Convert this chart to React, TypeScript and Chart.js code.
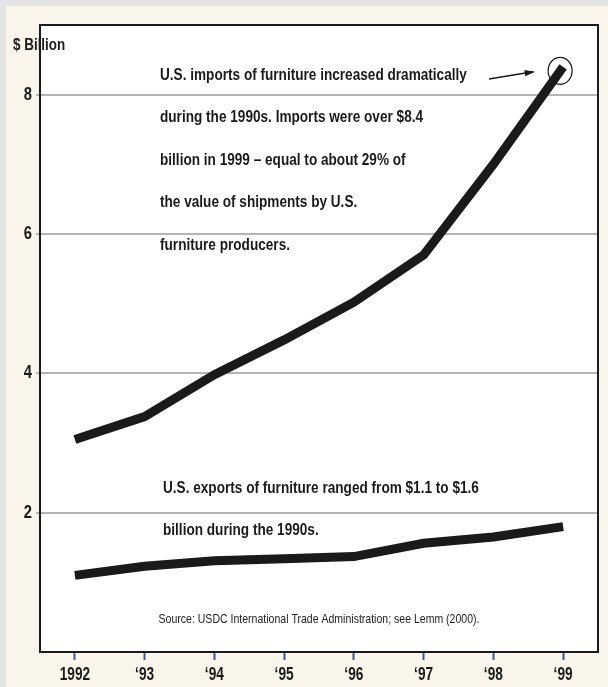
import React, { useEffect, useRef } from "react";
import { Chart, registerables } from "chart.js";

Chart.register(...registerables);

const years = ["1992", "\u201893", "\u201894", "\u201895", "\u201896", "\u201897", "\u201898", "\u201899"];
const imports = [3.05, 3.38, 3.98, 4.48, 5.02, 5.7, 7.0, 8.4];
const exportsData = [1.1, 1.23, 1.31, 1.34, 1.37, 1.56, 1.65, 1.8];
const yTicks = [2, 4, 6, 8];
const importNote = [
  "U.S. imports of furniture increased dramatically",
  "during the 1990s. Imports were over $8.4",
  "billion in 1999 \u2013 equal to about 29% of",
  "the value of shipments by U.S.",
  "furniture producers.",
];
const exportNote = [
  "U.S. exports of furniture ranged from $1.1 to $1.6",
  "billion during the 1990s.",
];
const sourceNote = "Source: USDC International Trade Administration; see Lemm (2000).";
const yTitle = "$ Billion";

const FONT = "'Liberation Sans', Arial, sans-serif";
const CREAM = "#f9f5ea";

function narrowText(ctx: any, text: string, x: number, y: number, sx: number, align: string) {
  ctx.save();
  ctx.translate(x, y);
  ctx.scale(sx, 1);
  ctx.textAlign = align;
  ctx.fillText(text, 0, 0);
  ctx.restore();
}

const decor = {
  id: "decor",
  beforeDraw(chart: any) {
    const { ctx, chartArea: a, width, height } = chart;
    ctx.save();
    ctx.fillStyle = "#e4e4e4";
    ctx.fillRect(0, 0, width, height);
    ctx.fillStyle = CREAM;
    ctx.fillRect(6, 6, width - 6, height - 6);
    ctx.fillStyle = "#ffffff";
    ctx.fillRect(a.left, a.top, a.right - a.left, a.bottom - a.top);
    ctx.restore();
  },
  afterDraw(chart: any) {
    const { ctx, chartArea: a, scales } = chart;
    ctx.save();
    ctx.strokeStyle = "#1a1a1a";
    ctx.lineWidth = 2;
    ctx.strokeRect(a.left, a.top, a.right - a.left, a.bottom - a.top);

    ctx.fillStyle = "#1a1a1a";
    ctx.textBaseline = "middle";

    // axis tick labels, taken from the library's scales
    ctx.font = `bold 18px ${FONT}`;
    scales.x.ticks.forEach((t: any, i: number) => {
      narrowText(ctx, scales.x.getLabelForValue(t.value), scales.x.getPixelForTick(i), 675, 0.76, "center");
    });
    scales.y.ticks.forEach((t: any, i: number) => {
      narrowText(ctx, String(t.value), a.left - 8, scales.y.getPixelForTick(i), 0.82, "right");
    });

    ctx.font = `bold 17px ${FONT}`;
    narrowText(ctx, yTitle, 13, 45, 0.79, "left");

    importNote.forEach((t, i) => narrowText(ctx, t, 160, 75 + i * 42.5, 0.8, "left"));
    exportNote.forEach((t, i) => narrowText(ctx, t, 163, 488 + i * 42, 0.8, "left"));

    ctx.font = `13px ${FONT}`;
    ctx.fillStyle = "#222";
    narrowText(ctx, sourceNote, 319, 619, 0.81, "center");

    // circle around 1999 import point
    const px = scales.x.getPixelForValue(7);
    const py = scales.y.getPixelForValue(imports[7]);
    ctx.strokeStyle = "#1a1a1a";
    ctx.lineWidth = 1.2;
    ctx.beginPath();
    ctx.ellipse(px - 3, py + 4, 12, 13.5, 0, 0, Math.PI * 2);
    ctx.stroke();

    // arrow
    const x0 = 489, y0 = 79, x1 = px - 30, y1 = py + 5;
    ctx.lineWidth = 1.4;
    ctx.beginPath();
    ctx.moveTo(x0, y0);
    ctx.lineTo(x1, y1);
    ctx.stroke();
    const ang = Math.atan2(y1 - y0, x1 - x0);
    ctx.fillStyle = "#1a1a1a";
    ctx.beginPath();
    ctx.moveTo(x1 + 2, y1);
    ctx.lineTo(x1 - 9 * Math.cos(ang - 0.35), y1 - 9 * Math.sin(ang - 0.35));
    ctx.lineTo(x1 - 9 * Math.cos(ang + 0.35), y1 - 9 * Math.sin(ang + 0.35));
    ctx.closePath();
    ctx.fill();
    ctx.restore();
  },
};

export default function App() {
  const ref = useRef<HTMLCanvasElement>(null);
  useEffect(() => {
    if (!ref.current) return;
    const chart = new Chart(ref.current, {
      type: "line",
      data: {
        labels: years,
        datasets: [
          {
            label: "Imports",
            data: imports,
            borderColor: "#1a1a1a",
            borderWidth: 9,
            pointRadius: 0,
            tension: 0,
            borderCapStyle: "butt",
            borderJoinStyle: "miter",
          },
          {
            label: "Exports",
            data: exportsData,
            borderColor: "#1a1a1a",
            borderWidth: 9,
            pointRadius: 0,
            tension: 0,
            borderCapStyle: "butt",
            borderJoinStyle: "miter",
          },
        ],
      },
      options: {
        animation: false,
        responsive: false,
        devicePixelRatio: 1,
        layout: { padding: { top: 25, right: 10, left: 0, bottom: 0 } },
        plugins: { legend: { display: false }, tooltip: { enabled: false } },
        scales: {
          x: {
            type: "category",
            offset: true,
            border: { display: false },
            grid: {
              drawOnChartArea: false,
              drawTicks: true,
              tickLength: 8,
              tickWidth: 2,
              tickColor: "#3a55a8",
              offset: false,
            },
            ticks: {
              display: false,
              maxRotation: 0,
              autoSkip: false,
            },
            afterFit(s: any) {
              s.height = 35;
            },
          },
          y: {
            min: 0,
            max: 9,
            border: { display: false },
            afterBuildTicks(s: any) {
              s.ticks = yTicks.map((v) => ({ value: v }));
            },
            grid: {
              color: "#b4b4b8",
              lineWidth: 2,
              tickLength: 4,
              drawTicks: true,
            },
            ticks: { display: false },
            afterFit(s: any) {
              s.width = 40;
            },
          },
        },
      },
      plugins: [decor],
    });
    return () => chart.destroy();
  }, []);
  return (
    <div style={{ position: "fixed", left: 0, top: 0, width: 608, height: 687 }}>
      <canvas ref={ref} width={608} height={687} style={{ width: 608, height: 687, display: "block" }} />
    </div>
  );
}
